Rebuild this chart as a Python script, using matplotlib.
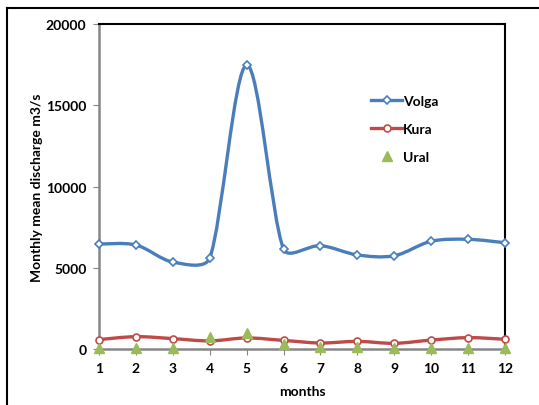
import numpy as np
import matplotlib.pyplot as plt
from matplotlib.path import Path
from matplotlib.patches import PathPatch
from matplotlib.lines import Line2D

plt.rcParams['font.family'] = ['Lato', 'DejaVu Sans']
plt.rcParams['font.weight'] = 'bold'

# data
months = [1, 2, 3, 4, 5, 6, 7, 8, 9, 10, 11, 12]
volga = [6460, 6400, 5350, 5600, 17480, 6150, 6360, 5790, 5740, 6630, 6750, 6540]
kura = [580, 760, 640, 500, 680, 530, 370, 470, 350, 550, 700, 600]
ural = [60, 60, 60, 740, 960, 300, 150, 100, 60, 60, 60, 60]

blue = '#4a7ebb'
red = '#be4b48'
green = '#9bbb59'


def smooth_path(ax, x, y):
    # smoothed line like Excel: bezier in screen space, catmull-rom handles
    # capped at a third of the segment length
    p = ax.transData.transform(np.column_stack([x, y]))
    n = len(p)
    chord = [p[min(i + 1, n - 1)] - p[max(i - 1, 0)] for i in range(n)]
    verts = [p[0]]
    codes = [Path.MOVETO]
    for i in range(n - 1):
        seg = np.hypot(*(p[i + 1] - p[i]))
        h = []
        for j in (i, i + 1):
            c = chord[j] / 6
            L = np.hypot(*c)
            if L > seg / 3:
                c = c * (seg / 3) / L
            h.append(c)
        verts += [p[i] + h[0], p[i + 1] - h[1], p[i + 1]]
        codes += [Path.CURVE4] * 3
    verts = ax.transData.inverted().transform(np.array(verts))
    return Path(verts, codes)


fig = plt.figure(figsize=(5.39, 4.06), dpi=100)
ax = fig.add_axes([0.1837, 0.1379, 0.7532, 0.8005])
ax.set_xlim(1, 12)
ax.set_ylim(0, 20000)

ax.add_patch(PathPatch(smooth_path(ax, months, volga), fill=False, edgecolor=blue, lw=2.4, zorder=2))
ax.add_patch(PathPatch(smooth_path(ax, months, kura), fill=False, edgecolor=red, lw=2.4, zorder=2))
ax.plot(months, volga, ls='none', marker='D', ms=4.5, mfc='white', mec=blue, mew=1.2, zorder=3, clip_on=False)
ax.plot(months, kura, ls='none', marker='o', ms=5, mfc='white', mec=red, mew=1.2, zorder=3, clip_on=False)
ax.plot(months, ural, ls='none', marker='^', ms=7.5, color=green, zorder=4, clip_on=False)

ax.set_xticks(months)
ax.set_yticks([0, 5000, 10000, 15000, 20000])

for side in ['left', 'bottom']:
    ax.spines[side].set_color('#868686')
    ax.spines[side].set_linewidth(1.8)
for side in ['top', 'right']:
    ax.spines[side].set_color('black')
    ax.spines[side].set_linewidth(1.5)

ax.tick_params(axis='both', direction='out', length=4, color='#868686', labelsize=10, pad=5)
ax.set_xlabel('months', fontsize=10, fontweight='bold', labelpad=8)
ax.set_ylabel('Monthly mean discharge m3/s', fontsize=10, fontweight='bold', labelpad=2)

handles = [
    Line2D([], [], color=blue, lw=2.4, marker='D', ms=4.5, mfc='white', mec=blue, mew=1.2),
    Line2D([], [], color=red, lw=2.4, marker='o', ms=5, mfc='white', mec=red, mew=1.2),
    Line2D([], [], ls='none', marker='^', ms=7.5, color=green),
]
ax.legend(handles, ['Volga', 'Kura', 'Ural'], loc='upper left', bbox_to_anchor=(0.64, 0.82),
          frameon=False, fontsize=10, labelspacing=1.15, handlelength=2.2, handletextpad=0.1)

# outer chart frame
fig.add_artist(Line2D([7 / 539, 1], [1 - 9 / 406, 1 - 9 / 406], color='black', lw=1.5, transform=fig.transFigure))
fig.add_artist(Line2D([7 / 539, 7 / 539], [0, 1 - 9 / 406], color='black', lw=1.5, transform=fig.transFigure))

fig.savefig('out.png', dpi=100)
